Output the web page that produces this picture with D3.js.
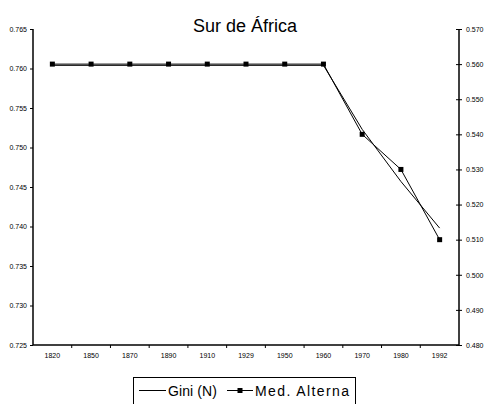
<!DOCTYPE html>
<html><head><meta charset="utf-8">
<script src="https://cdn.jsdelivr.net/npm/d3@7"></script>
<style>body{margin:0;background:#fff;}svg{display:block;font-family:"Liberation Sans",Arial,sans-serif;}</style>
</head><body>
<script>
const categories = ["1820","1850","1870","1890","1910","1929","1950","1960","1970","1980","1992"];
const gini = [0.7604,0.7604,0.7604,0.7604,0.7604,0.7604,0.7604,0.7604,0.7523,0.7457,0.7398];
const medAlterna = [0.560,0.560,0.560,0.560,0.560,0.560,0.560,0.560,0.540,0.530,0.510];
const leftTicks = [0.725,0.730,0.735,0.740,0.745,0.750,0.755,0.760,0.765];
const rightTicks = [0.480,0.490,0.500,0.510,0.520,0.530,0.540,0.550,0.560,0.570];
const title = "Sur de África";
const legendLabels = ["Gini (N)","Med. Alterna"];

const W=484,H=404;
const svg=d3.select("body").append("svg").attr("width",W).attr("height",H);
const L=33,R=459,T=29,B=345;
const x=d3.scaleBand().domain(categories).range([L,R]).padding(0);
const yL=d3.scaleLinear().domain([0.725,0.765]).range([B,T]);
const yR=d3.scaleLinear().domain([0.480,0.570]).range([B,T]);

svg.append("text").attr("x",245).attr("y",32).attr("text-anchor","middle")
  .attr("font-size",18).text(title);

// left axis
const gl=svg.append("g").attr("transform",`translate(${L},0)`)
  .call(d3.axisLeft(yL).tickValues(leftTicks).tickFormat(d3.format(".3f")).tickSize(3).tickPadding(3));
// right axis
const gr=svg.append("g").attr("transform",`translate(${R},0)`)
  .call(d3.axisRight(yR).tickValues(rightTicks).tickFormat(d3.format(".3f")).tickSize(3).tickPadding(4));
gr.selectAll(".tick line").attr("x1",-3);
// bottom axis
const gb=svg.append("g").attr("transform",`translate(0,${B})`)
  .call(d3.axisBottom(x).tickSize(0).tickPadding(8));
gb.selectAll(".tick").filter((d,i)=>i>0).append("line")
  .attr("x1",-x.bandwidth()/2).attr("x2",-x.bandwidth()/2).attr("y1",0).attr("y2",3).attr("stroke","#000");
[gl,gr,gb].forEach(g=>{
  g.select(".domain").attr("stroke","#000").attr("stroke-width",1.5);
  g.selectAll("text").attr("font-size",7).attr("fill","#000").attr("font-family","Liberation Sans, Arial, sans-serif");
  g.selectAll(".tick line").attr("stroke","#000");
});
gl.select(".domain").attr("d",`M0,${T}V${B}`);
gr.select(".domain").attr("d",`M0,${T}V${B}`);
gb.select(".domain").attr("d",`M${L},0H${R}`);

const cx=d=>x(d)+x.bandwidth()/2;
const lineG=d3.line().x((d,i)=>cx(categories[i])).y(d=>yL(d));
const lineM=d3.line().x((d,i)=>cx(categories[i])).y(d=>yR(d));
svg.append("path").attr("d",lineG(gini)).attr("fill","none").attr("stroke","#000").attr("stroke-width",1);
svg.append("path").attr("d",lineM(medAlterna)).attr("fill","none").attr("stroke","#000").attr("stroke-width",1);
svg.selectAll("rect.mk").data(medAlterna).enter().append("rect").attr("class","mk")
  .attr("x",(d,i)=>cx(categories[i])-2.5).attr("y",d=>yR(d)-2.5).attr("width",5).attr("height",5).attr("fill","#000");

// legend
const lg=svg.append("g");
lg.append("rect").attr("x",133.5).attr("y",377.5).attr("width",222).attr("height",30).attr("fill","#fff").attr("stroke","#000");
lg.append("line").attr("x1",139).attr("x2",166).attr("y1",390.5).attr("y2",390.5).attr("stroke","#000");
lg.append("text").attr("x",168).attr("y",395.5).attr("font-size",14).attr("textLength",49).attr("lengthAdjust","spacing").text(legendLabels[0]);
lg.append("line").attr("x1",227).attr("x2",253).attr("y1",390.5).attr("y2",390.5).attr("stroke","#000");
lg.append("rect").attr("x",237.5).attr("y",388).attr("width",5).attr("height",5).attr("fill","#000");
lg.append("text").attr("x",255).attr("y",395.5).attr("font-size",14).attr("textLength",94).attr("lengthAdjust","spacing").text(legendLabels[1]);
</script>
</body></html>
